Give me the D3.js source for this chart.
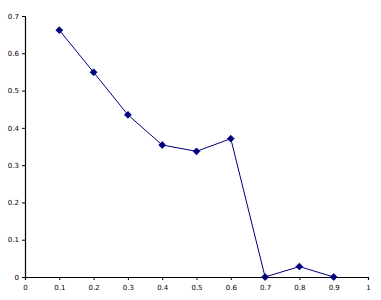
<!DOCTYPE html>
<html lang="en">
<head>
    <meta charset="UTF-8">
    <title>Line chart</title>
    <script src="https://d3js.org/d3.v7.min.js"></script>
    <style>
        body { margin: 0; background: #fff; }
        .tick text { font-family: "DejaVu Sans", sans-serif; font-size: 7px; fill: #000; }
    </style>
</head>
<body>
    <svg width="381" height="300"></svg>
    <script>
        // Werte
        var xValues = [0.1, 0.2, 0.3, 0.4, 0.5, 0.6, 0.7, 0.8, 0.9];
        var yValues = [0.662, 0.549, 0.435, 0.354, 0.337, 0.371, 0, 0.028, 0];
        var xTicks = [0, 0.1, 0.2, 0.3, 0.4, 0.5, 0.6, 0.7, 0.8, 0.9, 1];
        var yTicks = [0, 0.1, 0.2, 0.3, 0.4, 0.5, 0.6, 0.7];

        var data = xValues.map(function(x, i) { return [x, yValues[i]]; });

        var svg = d3.select('svg'),
            margin = { top: 16, right: 13, bottom: 23, left: 25 },
            width = svg.attr('width') - margin.left - margin.right,
            height = svg.attr('height') - margin.top - margin.bottom;

        var xScale = d3.scaleLinear().domain([0, 1]).range([0, width]),
            yScale = d3.scaleLinear().domain([0, 0.7]).range([height, 0]);

        var g = svg.append('g')
            .attr('transform', 'translate(' + margin.left + ',' + margin.top + ')');

        // Achsen
        var xAxis = g.append('g')
            .attr('transform', 'translate(0,' + height + ')')
            .call(d3.axisBottom(xScale).tickValues(xTicks).tickSize(3).tickPadding(5)
                .tickFormat(function(d) { return d3.format('~g')(d); }));
        var yAxis = g.append('g')
            .call(d3.axisLeft(yScale).tickValues(yTicks).tickSize(3).tickPadding(3)
                .tickFormat(function(d) { return d3.format('~g')(d); }));

        [xAxis, yAxis].forEach(function(a) {
            a.select('.domain').attr('stroke', '#000').attr('stroke-width', 1.2);
            a.selectAll('.tick line').attr('stroke', '#000');
        });

        // Linie
        var line = d3.line()
            .x(function(d) { return xScale(d[0]); })
            .y(function(d) { return yScale(d[1]); });

        g.append('path')
            .datum(data)
            .attr('fill', 'none')
            .attr('stroke', '#000080')
            .attr('stroke-width', 1)
            .attr('d', line);

        // Rauten-Marker
        g.selectAll('.marker')
            .data(data)
            .enter().append('path')
            .attr('class', 'marker')
            .attr('d', d3.symbol().type(d3.symbolDiamond2).size(30))
            .attr('transform', function(d) {
                return 'translate(' + xScale(d[0]) + ',' + yScale(d[1]) + ')';
            })
            .attr('fill', '#000080')
            .attr('stroke', '#000080')
            .attr('stroke-width', 0.8);
    </script>
</body>
</html>
